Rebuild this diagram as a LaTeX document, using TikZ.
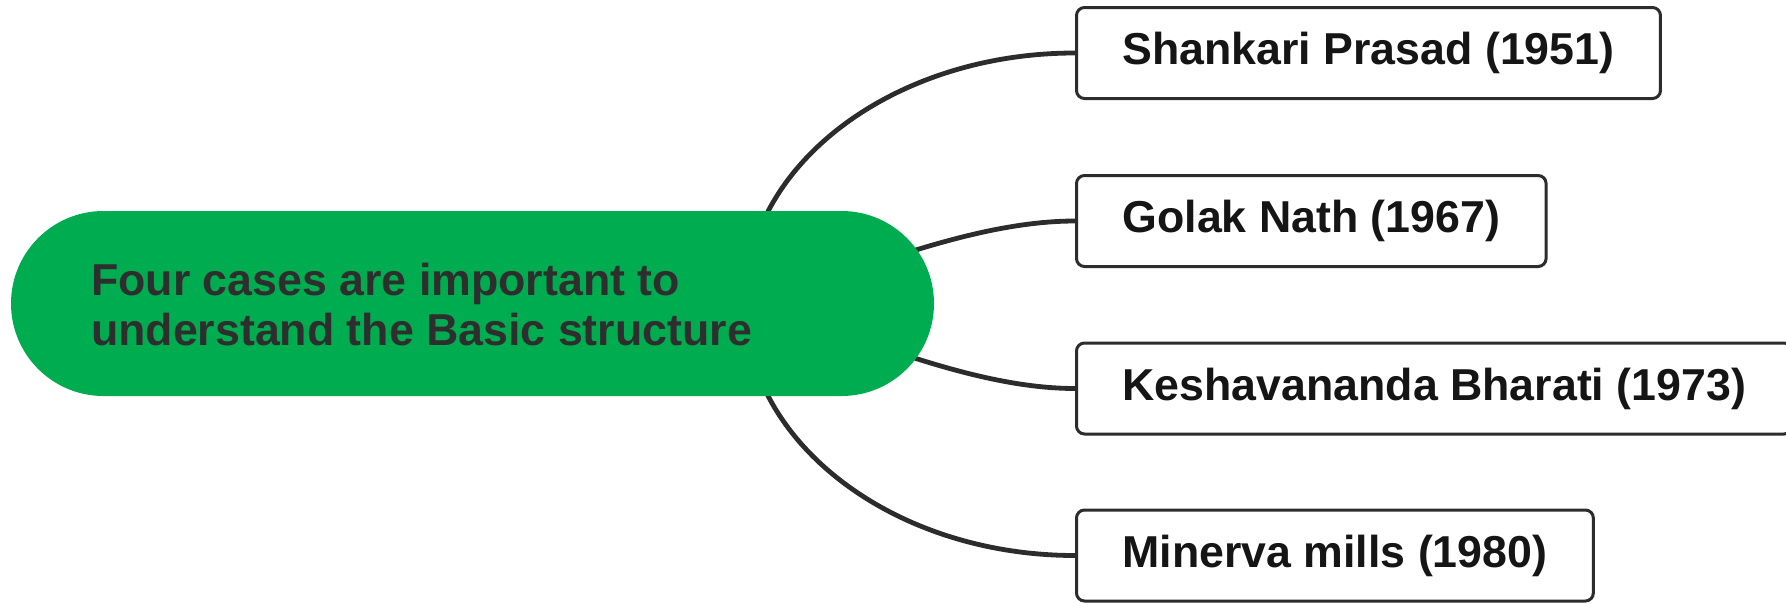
\documentclass[tikz,border=0pt]{standalone}
\usepackage{fontspec}
\setmainfont{Liberation Sans}
\usetikzlibrary{backgrounds}
\definecolor{pillgreen}{HTML}{00AC50}
\definecolor{darktext}{HTML}{2E2E2E}
\definecolor{boxtext}{HTML}{151515}
\definecolor{linegray}{HTML}{2C2C2C}
\tikzset{
  pill/.style={fill=pillgreen, draw=none, rounded corners=92.5pt, minimum width=923pt, minimum height=185pt, inner sep=0pt},
  maintext/.style={text=darktext, font=\bfseries\fontsize{44.7}{50}\selectfont, align=left, inner sep=0pt, anchor=west},
  casebox/.style={draw=linegray, line width=3pt, rounded corners=8pt, fill=white, text=boxtext, font=\bfseries\fontsize{44.7}{50}\selectfont, inner xsep=46pt, inner ysep=0pt, minimum height=91pt, anchor=west},
  link/.style={draw=linegray, line width=4.8pt}
}
\begin{document}
\begin{tikzpicture}[x=1pt,y=-1pt]
\useasboundingbox (0,0) rectangle (1786,603);
\node[pill] (hub) at (472.5,303.5) {};
\node[maintext] (hubtext) at (91,305) {Four cases are important to\\understand the Basic structure};
\coordinate (hubc) at (745,303.5);
\node[casebox] (b1) at (1075,53) {Shankari Prasad (1951)};
\node[casebox] (b2) at (1075,221) {Golak Nath (1967)};
\node[casebox] (b3) at (1075,388.5) {Keshavananda Bharati (1973)};
\node[casebox] (b4) at (1075,555.5) {Minerva mills (1980)};
\begin{scope}[on background layer]
\draw[link] (hubc) .. controls +(0,-138.5) and +(-182,0) .. (b1.west);
\draw[link] (hubc) .. controls +(85,-18.5) and +(-115,0) .. (b2.west);
\draw[link] (hubc) .. controls +(85,18.5) and +(-115,0) .. (b3.west);
\draw[link] (hubc) .. controls +(0,138.5) and +(-182,0) .. (b4.west);
\end{scope}
\end{tikzpicture}
\end{document}
